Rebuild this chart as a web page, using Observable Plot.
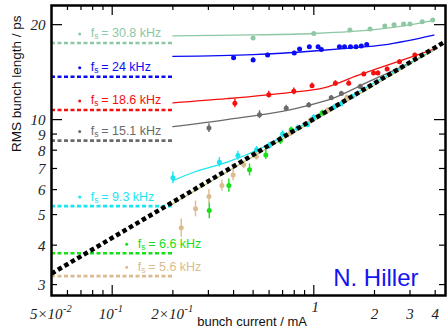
<!DOCTYPE html>
<html>
<head>
<meta charset="utf-8">
<script src="https://cdn.jsdelivr.net/npm/d3@7"></script>
<script src="https://cdn.jsdelivr.net/npm/@observablehq/plot@0.6"></script>
<style>
  html, body { margin: 0; padding: 0; background: #fff; }
  #chart svg { display: block; }
</style>
</head>
<body>
<div id="chart"></div>
<script>
// ---------------- data ----------------
const fsNames    = ["30.8", "24", "18.6", "15.1", "9.3", "6.6", "5.6"];
const fsColors   = ["#8dc7a3", "#0b0bf5", "#f51010", "#6a6a6a", "#19e6ee", "#16e016", "#dcbb8e"];
const zeroLength = [17.5, 13.68, 10.73, 8.58, 5.32, 3.77, 3.19];   // ps, dashed levels
const zeroFrom   = [0.05, 0.05, 0.05, 0.05, 0.05, 0.05, 0.05];      // mA
const zeroTo     = [0.2, 0.2, 0.2, 0.2, 0.2, 0.2, 0.2];             // mA
const labelAt    = [0.069, 0.069, 0.069, 0.069, 0.069, 0.118, 0.118];

// measured points: current (mA), bunch length (ps), error (ps)
const I_30_8 = [0.50, 1.00, 1.51, 1.90, 2.25, 2.50, 2.79, 3.00, 3.45, 3.89];
const s_30_8 = [18.14, 18.76, 19.22, 19.36, 19.80, 19.98, 20.09, 20.09, 20.42, 20.68];
const e_30_8 = [0.2, 0.15, 0.15, 0.15, 0.15, 0.15, 0.15, 0.15, 0.15, 0.15];

const I_24 = [0.40, 0.50, 0.59, 0.80, 0.85, 0.95, 1.05, 1.09, 1.34, 1.42, 1.52, 1.62, 1.72, 1.83];
const s_24 = [15.71, 15.45, 16.03, 16.26, 16.74, 17.02, 17.02, 16.69, 17.02, 17.02, 17.02, 17.02, 17.11, 17.31];
const e_24 = [0.25, 0.25, 0.2, 0.2, 0.15, 0.15, 0.15, 0.15, 0.15, 0.15, 0.15, 0.15, 0.15, 0.15];

const I_18_6 = [0.406, 0.598, 0.796, 0.98, 1.28, 1.49, 1.77, 1.98, 2.08, 2.31, 2.66, 3.17];
const s_18_6 = [11.26, 12.0, 12.29, 12.81, 13.03, 13.03, 13.95, 14.05, 14.05, 14.47, 15.26, 16.03];
const e_18_6 = [0.35, 0.3, 0.3, 0.25, 0.25, 0.25, 0.2, 0.2, 0.2, 0.2, 0.2, 0.2];

const I_15_1 = [0.302, 0.538, 0.73, 0.944, 1.22, 1.37, 1.70];
const s_15_1 = [9.41, 10.37, 10.86, 11.13, 11.72, 12.1, 12.74];
const e_15_1 = [0.3, 0.3, 0.25, 0.2, 0.2, 0.2, 0.2];

const I_9_3 = [0.2, 0.34, 0.42, 0.52, 0.6, 0.7, 0.83, 0.93, 1.0, 1.26, 1.36, 1.55];
const s_9_3 = [6.54, 7.33, 7.69, 8.02, 8.27, 9.01, 9.41, 9.64, 10.17, 10.94, 11.2, 11.83];
const e_9_3 = [0.28, 0.25, 0.25, 0.2, 0.2, 0.2, 0.2, 0.2, 0.2, 0.2, 0.2, 0.2];

const I_6_6 = [0.303, 0.379, 0.48, 0.578, 0.683, 0.772, 1.10];
const s_6_6 = [5.15, 6.18, 6.93, 7.73, 8.58, 9.28, 10.5];
const e_6_6 = [0.3, 0.3, 0.3, 0.25, 0.25, 0.2, 0.2];

const I_5_6 = [0.22, 0.259, 0.302, 0.35, 0.398, 0.449, 0.519, 0.764, 0.963, 1.17, 1.46];
const s_5_6 = [4.54, 5.22, 5.71, 6.18, 6.68, 7.19, 7.64, 9.05, 9.98, 10.7, 11.77];
const e_5_6 = [0.3, 0.3, 0.3, 0.25, 0.28, 0.2, 0.2, 0.2, 0.2, 0.2, 0.2];

// fitted curves
const fitI_30_8 = [0.2, 0.5, 1, 1.5, 2, 3, 3.9];
const fitS_30_8 = [18.42, 18.55, 18.75, 19.0, 19.3, 19.98, 20.6];
const fitI_24   = [0.2, 0.5, 1, 1.5, 2.22, 2.9, 3.94];
const fitS_24   = [15.86, 16.06, 16.5, 16.86, 17.25, 17.78, 18.54];
const fitI_18_6 = [0.2, 0.37, 0.77, 1.12, 1.64, 2.4, 4.09];
const fitS_18_6 = [11.3, 11.65, 12.2, 12.6, 13.78, 15.0, 16.86];
const fitI_15_1 = [0.2, 0.37, 0.86, 1.26, 1.84, 2.69, 4.09];
const fitS_15_1 = [9.5, 10.0, 10.94, 11.72, 13.12, 14.64, 16.8];
const fitI_9_3  = [0.2, 0.254, 0.372, 0.544, 0.796, 1.26, 2, 3, 4.09];
const fitS_9_3  = [6.41, 6.81, 7.33, 8.1, 9.25, 11.0, 13.1, 15.1, 16.86];
const fitI_low  = [0.2, 4.09];
const fitS_low  = [5.41, 16.86];
const fitLowColor = "#b7c26c";

// black dotted scaling line
const scaleI = [0.05, 4.5];
const scaleS = [3.25, 17.7];

// axes
const xMinorTicks = [0.06, 0.07, 0.08, 0.09, 0.2, 0.3, 0.4, 0.5, 0.6, 0.7, 0.8, 0.9, 2, 3, 4];
const xMajorTicks = [0.1, 1];
const yMinorTicks = [3, 4, 5, 6, 7, 8, 9];
const yMajorTicks = [10, 20];
const xExpLabelAt   = [0.05, 0.1, 0.2];
const xExpLabelBase = ["5×10", "10", "2×10"];
const xExpLabelExp  = ["-2", "-1", "-1"];
const xPlainLabels  = [1, 2, 3, 4];
const yLabels       = [3, 4, 5, 6, 7, 8, 9, 10, 20];

// ---------------- tables ----------------
const pointSets = [[I_30_8, s_30_8, e_30_8], [I_24, s_24, e_24], [I_18_6, s_18_6, e_18_6],
  [I_15_1, s_15_1, e_15_1], [I_9_3, s_9_3, e_9_3], [I_6_6, s_6_6, e_6_6], [I_5_6, s_5_6, e_5_6]];
const points = [];
pointSets.forEach(([I, s, e], k) => I.forEach((x, i) =>
  points.push({name: fsNames[k], color: fsColors[k], I: x, s: s[i], lo: s[i] - e[i], hi: s[i] + e[i]})));

const fitSets = [[fitI_30_8, fitS_30_8, fsColors[0]], [fitI_24, fitS_24, fsColors[1]],
  [fitI_18_6, fitS_18_6, fsColors[2]], [fitI_15_1, fitS_15_1, fsColors[3]],
  [fitI_9_3, fitS_9_3, fsColors[4]], [fitI_low, fitS_low, fitLowColor]];
const fits = [];
fitSets.forEach(([I, s, c], k) => I.forEach((x, i) => fits.push({k, color: c, I: x, s: s[i]})));

const levels = fsNames.map((name, k) => ({name, color: fsColors[k], level: zeroLength[k],
  from: zeroFrom[k], to: zeroTo[k], lx: labelAt[k]}));

const scaleLine = scaleI.map((x, i) => ({I: x, s: scaleS[i]}));

// ---------------- plot ----------------
const W = 448, H = 329, mL = 51, mR = 3, mT = 5, mB = 34;
const fw = W - mL - mR, fh = H - mT - mB;
const serif = "'Liberation Serif', 'Times New Roman', serif";
const sans = "'Liberation Sans', Arial, Helvetica, sans-serif";
const expShift = [11, 1.5, 11];   // horizontal placement of the exponent labels (px)

const tickLabelStyle = {frameAnchor: "bottom", lineAnchor: "bottom", fontStyle: "italic", fontFamily: serif, fill: "#222"};

const chart = Plot.plot({
  width: W, height: H,
  marginLeft: mL, marginRight: mR, marginTop: mT, marginBottom: mB,
  x: {type: "log", domain: [0.05, 4.5], axis: null},
  y: {type: "log", domain: [2.77, 23], axis: null},
  color: {type: "identity"},
  style: {background: "#fff", fontFamily: sans},
  marks: [
    // zero-current dashed levels
    Plot.ruleY(levels, {y: "level", x1: "from", x2: "to", stroke: "color", strokeWidth: 2.6, strokeDasharray: "4,2.5"}),
    // fits
    Plot.line(fits, {x: "I", y: "s", z: "k", stroke: "color", strokeWidth: 1.3, curve: "monotone-x"}),
    // error bars + points
    Plot.ruleX(points, {x: "I", y1: "lo", y2: "hi", stroke: "color", strokeWidth: 1.4}),
    Plot.dot(points, {x: "I", y: "s", r: 2.5, fill: "color", stroke: null}),
    // dotted scaling line
    Plot.line(scaleLine, {x: "I", y: "s", stroke: "black", strokeWidth: 4.5, strokeDasharray: "4.5,3",
      strokeLinecap: "butt", strokeLinejoin: "miter", clip: true}),
    // series labels
    Plot.dot(levels, {x: "lx", y: "level", dy: -9, r: 1.5, fill: "color"}),
    Plot.text(levels, {x: "lx", y: "level", text: () => "f", dx: 11, dy: -5.5, textAnchor: "start", lineAnchor: "bottom", fill: "color", fontSize: 12.5}),
    Plot.text(levels, {x: "lx", y: "level", text: () => "s", dx: 14.5, dy: -3.5, textAnchor: "start", lineAnchor: "bottom", fill: "color", fontSize: 8.5}),
    Plot.text(levels, {x: "lx", y: "level", text: d => "= " + d.name + " kHz", dx: 21.5, dy: -5.5, textAnchor: "start", lineAnchor: "bottom", fill: "color", fontSize: 12.5}),
    // ticks (inward, on all four sides)
    Plot.tickX(xMinorTicks, {x: d => d, insetTop: fh - 5, stroke: "black", strokeWidth: 1.2}),
    Plot.tickX(xMajorTicks, {x: d => d, insetTop: fh - 10, stroke: "black", strokeWidth: 1.2}),
    Plot.tickX(xMinorTicks, {x: d => d, insetBottom: fh - 5, stroke: "black", strokeWidth: 1.2}),
    Plot.tickX(xMajorTicks, {x: d => d, insetBottom: fh - 10, stroke: "black", strokeWidth: 1.2}),
    Plot.tickY(yMinorTicks, {y: d => d, insetRight: fw - 6, stroke: "black", strokeWidth: 1.2}),
    Plot.tickY(yMajorTicks, {y: d => d, insetRight: fw - 11, stroke: "black", strokeWidth: 1.2}),
    Plot.tickY(yMinorTicks, {y: d => d, insetLeft: fw - 6, stroke: "black", strokeWidth: 1.2}),
    Plot.tickY(yMajorTicks, {y: d => d, insetLeft: fw - 11, stroke: "black", strokeWidth: 1.2}),
    // tick labels with exponents
    ...xExpLabelAt.map((v, i) => Plot.text([v], {...tickLabelStyle, x: d => d, text: () => xExpLabelBase[i],
      dy: 23, dx: expShift[i], textAnchor: "end", fontSize: 15})),
    ...xExpLabelAt.map((v, i) => Plot.text([v], {...tickLabelStyle, x: d => d, text: () => xExpLabelExp[i],
      dy: 16, dx: expShift[i] + 0.5, textAnchor: "start", fontSize: 10.5})),
    Plot.text(xPlainLabels.filter(d => d === 1), {...tickLabelStyle, x: d => d, text: d => String(d),
      dy: 16.5, dx: 1.5, textAnchor: "middle", fontSize: 15}),
    Plot.text(xPlainLabels.filter(d => d !== 1), {...tickLabelStyle, x: d => d, text: d => String(d),
      dy: 23, textAnchor: "middle", fontSize: 15}),
    Plot.text(yLabels, {y: d => d, text: d => String(d), frameAnchor: "left", dx: -6, dy: 1,
      textAnchor: "end", lineAnchor: "middle", fontSize: 15, fontStyle: "italic", fontFamily: serif, fill: "#222"}),
    // axis titles
    Plot.text(["RMS bunch length / ps"], {frameAnchor: "top-left", dx: -35, dy: 10, rotate: -90,
      textAnchor: "end", lineAnchor: "middle", fontSize: 13.5, fill: "#111"}),
    Plot.text(["bunch current / mA"], {frameAnchor: "bottom-left", dx: 255.5, dy: 30,
      textAnchor: "end", lineAnchor: "bottom", fontSize: 13, fill: "#111"}),
    Plot.text(["N. Hiller"], {frameAnchor: "bottom-right", dx: -27, dy: -9.5,
      textAnchor: "end", lineAnchor: "bottom", fontSize: 24, fill: "#1414f0"}),
    Plot.frame({stroke: "black", strokeWidth: 2.5})
  ]
});

document.getElementById("chart").appendChild(chart);
</script>
</body>
</html>
